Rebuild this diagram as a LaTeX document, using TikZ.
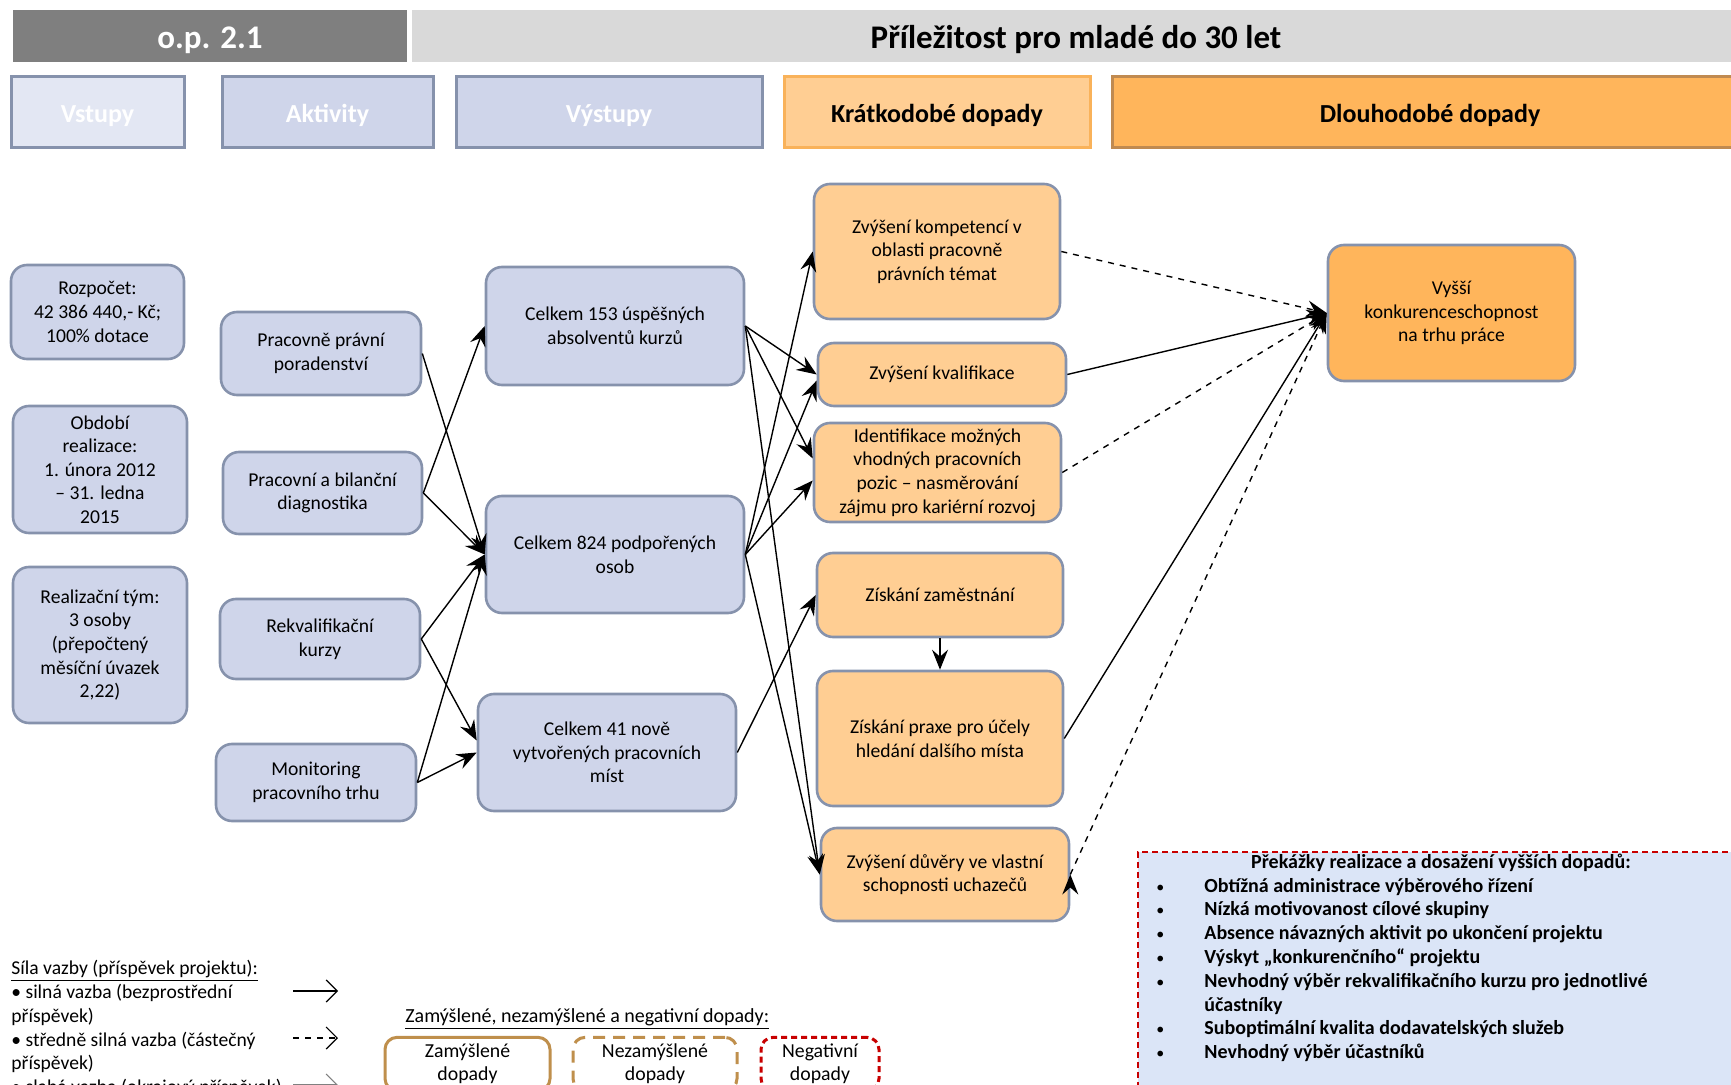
\documentclass[tikz,border=0pt]{standalone}
\usepackage{fontspec}
\setmainfont{Carlito}
\usepackage{tikz}
\usetikzlibrary{arrows.meta}
\usetikzlibrary{positioning}

\definecolor{boxline}{RGB}{134,146,172}
\definecolor{bluefill}{RGB}{207,213,234}
\definecolor{palefill}{RGB}{227,231,243}
\definecolor{shortfill}{RGB}{255,206,147}
\definecolor{longfill}{RGB}{255,181,91}
\definecolor{shortline}{RGB}{249,178,90}
\definecolor{longline}{RGB}{192,138,80}
\definecolor{darkbar}{RGB}{127,127,127}
\definecolor{lightbar}{RGB}{217,217,217}
\definecolor{obstfill}{RGB}{219,229,247}
\definecolor{negred}{RGB}{200,0,0}
\definecolor{intbrown}{RGB}{191,143,76}

\begin{document}
\begin{tikzpicture}[x=0.5pt,y=-0.5pt,
    txt/.style={font=\fontsize{9.8}{11.8}\selectfont,align=center},
    blue box/.style={txt,draw=boxline,line width=1.3pt,fill=bluefill,rounded corners=8pt,inner sep=2pt},
    short box/.style={blue box,fill=shortfill},
    long box/.style={blue box,fill=longfill},
    colhead/.style={font=\fontsize{13}{15}\selectfont\bfseries,line width=1.5pt,minimum height=35.5pt,text height=10pt,text depth=0pt},
    topbar/.style={font=\fontsize{16.5}{19}\selectfont\bfseries,minimum height=26pt,text height=12.5pt,text depth=0pt},
    link/.style={line width=0.7pt,>={Stealth[length=10pt,width=8pt,inset=3.5pt]}},
    legarrow/.style={line width=0.6pt,-{Straight Barb[length=5.5pt,width=11pt]}},
    legbox/.style={font=\fontsize{9.9}{11.5}\selectfont,align=center,line width=1.5pt,rounded corners=6pt,minimum height=26pt,fill=white},
    dashlong/.style={dash pattern=on 6pt off 4pt},
    dashshort/.style={dash pattern=on 3pt off 2pt},
    smallbullet/.style={}
  ]
  \useasboundingbox (0,0) rectangle (1731,1085);

  \node [topbar,fill=darkbar,text=white,minimum width=197pt] (op) at (210,36) {o.p. 2.1};
  \node [topbar,fill=lightbar,minimum width=664pt] (title) at (1076,36) {Příležitost pro mladé do 30 let};

  \node [colhead,draw=boxline,fill=palefill,text=white,minimum width=86.5pt] (h_in) at (97.5,112.5) {Vstupy};
  \node [colhead,draw=boxline,fill=bluefill,text=white,minimum width=105.5pt] (h_act) at (327.5,112.5) {Aktivity};
  \node [colhead,draw=boxline,fill=bluefill,text=white,minimum width=153pt] (h_out) at (609,112.5) {Výstupy};
  \node [colhead,draw=shortline,fill=shortfill,minimum width=153pt] (h_short) at (937,112.5) {Krátkodobé dopady};
  \node [colhead,draw=longline,fill=longfill,minimum width=318pt] (h_long) at (1430,112.5) {Dlouhodobé dopady};

  \node [blue box,minimum width=86.5pt,minimum height=47pt] (in_1) at (97.5,312) {Rozpočet:\\42 386 440,- Kč;\\100\% dotace};
  \node [blue box,minimum width=87pt,minimum height=63.5pt] (in_2) at (100,469.5) {Období\\realizace:\\1. února 2012\\– 31. ledna\\2015};
  \node [blue box,minimum width=87pt,minimum height=78pt] (in_3) at (100,645) {Realizační tým:\\3 osoby\\(přepočtený\\měsíční úvazek\\2,22)};

  \node [blue box,minimum width=100pt,minimum height=41.5pt] (act_1) at (321,353.5) {Pracovně právní\\poradenství};
  \node [blue box,minimum width=99.5pt,minimum height=41pt] (act_2) at (322.5,493) {Pracovní a bilanční\\diagnostika};
  \node [blue box,minimum width=100pt,minimum height=40pt] (act_3) at (320,639) {Rekvalifikační\\kurzy};
  \node [blue box,minimum width=100pt,minimum height=38.5pt] (act_4) at (316,782.5) {Monitoring\\pracovního trhu};

  \node [blue box,minimum width=129pt,minimum height=59pt] (out_1) at (615,326) {Celkem 153 úspěšných\\absolventů kurzů};
  \node [blue box,minimum width=129pt,minimum height=58.5pt] (out_2) at (615,554.5) {Celkem 824 podpořených\\osob};
  \node [blue box,minimum width=129pt,minimum height=58.5pt] (out_3) at (607,752.5) {Celkem 41 nově\\vytvořených pracovních\\míst};

  \node [short box,minimum width=123pt,minimum height=67.5pt] (short_1) at (937,251.5) {Zvýšení kompetencí v\\oblasti pracovně\\právních témat};
  \node [short box,minimum width=124pt,minimum height=31.5pt] (short_2) at (942,374.5) {Zvýšení kvalifikace};
  \node [short box,minimum width=123.5pt,minimum height=49.5pt,inner sep=0.5pt] (short_3) at (937.5,472.5) {Identifikace možných\\vhodných pracovních\\pozic – nasměrování\\zájmu pro kariérní rozvoj};
  \node [short box,minimum width=123pt,minimum height=42pt] (short_4) at (940,595) {Získání zaměstnání};
  \node [short box,minimum width=123pt,minimum height=67.5pt] (short_5) at (940,738.5) {Získání praxe pro účely\\hledání dalšího místa};
  \node [short box,minimum width=124pt,minimum height=46.5pt] (short_6) at (945,874.5) {Zvýšení důvěry ve vlastní\\schopnosti uchazečů};

  \node [long box,minimum width=123.5pt,minimum height=68pt] (long_1) at (1451.5,313) {Vyšší\\konkurenceschopnost\\na trhu práce};

  \path [draw,link,->]
    (act_1.east) edge (out_2.west)
    (act_2.east) edge (out_1.west)
    (act_2.east) edge (out_2.west)
    (act_3.east) edge (out_2.west)
    (act_3.east) edge ([yshift=6pt]out_3.west)
    (act_4.east) edge (out_2.west)
    (act_4.east) edge (out_3.west)
    (out_1.east) edge (short_2.west)
    (out_1.east) edge ([yshift=7pt]short_3.west)
    (out_1.east) edge (short_6.west)
    (out_2.east) edge (short_1.west)
    (out_2.east) edge ([yshift=-3pt]short_2.west)
    (out_2.east) edge ([yshift=-4pt]short_3.west)
    (out_2.east) edge (short_6.west)
    (out_3.east) edge (short_4.west)
    (short_4)    edge (short_5)
    (short_1.east) edge [dashed] (long_1.west)
    (short_2.east) edge (long_1.west)
    (short_3.east) edge [dashed] (long_1.west)
    (short_5.east) edge (long_1.west)
    (short_6.east) edge [dashed] (long_1.west);

  \node [draw=negred,dashshort,line width=0.8pt,fill=obstfill,anchor=north west,minimum width=304pt,minimum height=122pt] (obst) at (1137,851) {};
  \node [font=\fontsize{10}{11.9}\selectfont\bfseries] (obst_title) at (1441,863) {Překážky realizace a dosažení vyšších dopadů:};
  \node [anchor=north west,inner sep=0pt,font=\fontsize{10}{11.9}\selectfont\bfseries] (obst_list) at (1156,875)
    {\begin{tabular}{@{}p{24pt}@{}l@{}}
      {\mdseries\fontsize{8}{8}\selectfont\textbullet} & Obtížná administrace výběrového řízení\\
      {\mdseries\fontsize{8}{8}\selectfont\textbullet} & Nízká motivovanost cílové skupiny\\
      {\mdseries\fontsize{8}{8}\selectfont\textbullet} & Absence návazných aktivit po ukončení projektu\\
      {\mdseries\fontsize{8}{8}\selectfont\textbullet} & Výskyt „konkurenčního“ projektu\\
      {\mdseries\fontsize{8}{8}\selectfont\textbullet} & Nevhodný výběr rekvalifikačního kurzu pro jednotlivé\\
                  & účastníky\\
      {\mdseries\fontsize{8}{8}\selectfont\textbullet} & Suboptimální kvalita dodavatelských služeb\\
      {\mdseries\fontsize{8}{8}\selectfont\textbullet} & Nevhodný výběr účastníků
    \end{tabular}};

  \node [anchor=north west,inner sep=0pt,align=left,font=\fontsize{9.8}{11.9}\selectfont] (legend) at (11,960)
    {\underline{Síla vazby (příspěvek projektu):}\\
     \textbullet\ silná vazba (bezprostřední\\
     příspěvek)\\
     \textbullet\ středně silná vazba (částečný\\
     příspěvek)\\
     \textbullet\ slabá vazba (okrajový příspěvek)};
  \coordinate (leg_s1) at (293,991);
  \coordinate (leg_e1) at (338,991);
  \coordinate (leg_s2) at (293,1038);
  \coordinate (leg_e2) at (338,1038);
  \coordinate (leg_s3) at (293,1085);
  \coordinate (leg_e3) at (338,1085);
  \draw [legarrow] (leg_s1) -- (leg_e1);
  \draw [legarrow,dashed] (leg_s2) -- (leg_e2);
  \draw [legarrow,gray] (leg_s3) -- (leg_e3);

  \node [anchor=west,inner sep=0pt,font=\fontsize{10}{12}\selectfont] (leg_title) at (405,1019) {\underline{Zamýšlené, nezamýšlené a negativní dopady:}};
  \node [legbox,draw=intbrown,minimum width=82.5pt] (leg_int) at (467.5,1064) {Zamýšlené\\dopady};
  \node [legbox,draw=intbrown,dashlong,minimum width=82pt] (leg_unint) at (655,1064) {Nezamýšlené\\dopady};
  \node [legbox,draw=negred,dashshort,minimum width=59pt] (leg_neg) at (820,1064) {Negativní\\dopady};

\end{tikzpicture}
\end{document}
